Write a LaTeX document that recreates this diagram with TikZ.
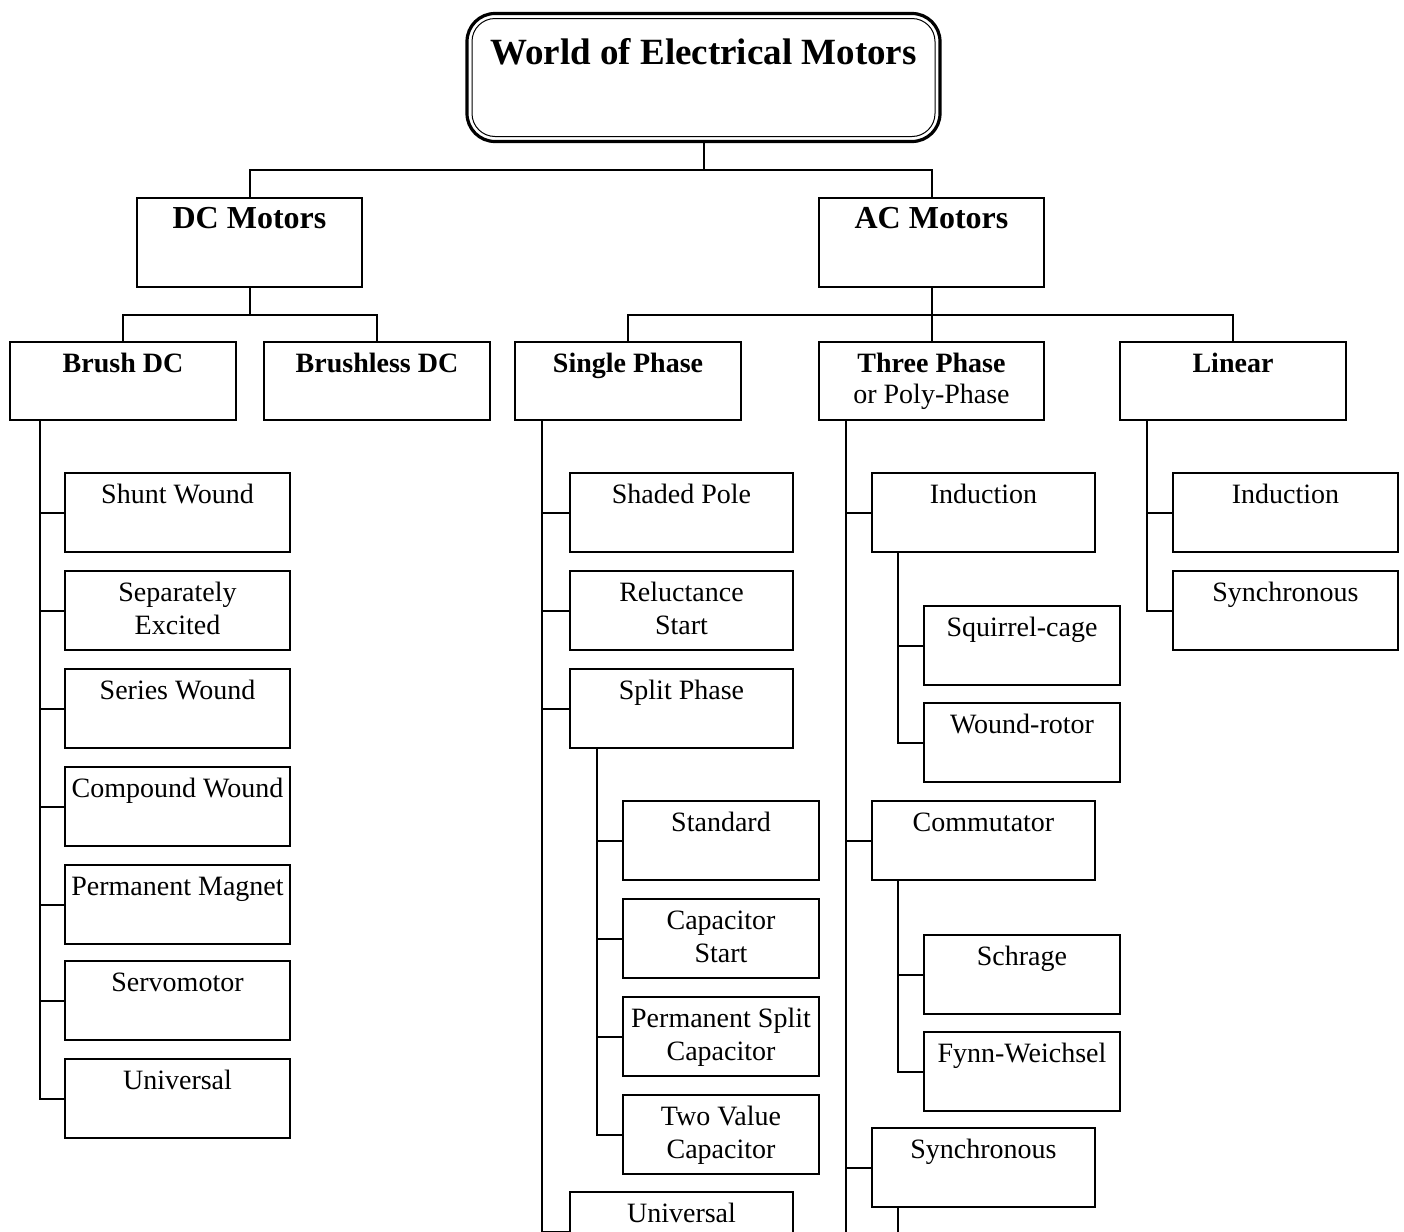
\documentclass[tikz,border=0pt]{standalone}
\usepackage{fontspec}
\setmainfont{Liberation Serif}
\tikzset{
  x=0.5pt, y=-0.5pt,
  bx/.style={draw, line width=1pt, rectangle, inner sep=0pt, outer sep=0pt, anchor=north west},
  bxA/.style={bx, minimum width=113pt, minimum height=39pt},
  bxM/.style={bx, minimum width=112.5pt, minimum height=44.5pt},
  bxC/.style={bx, minimum width=112.5pt, minimum height=39.5pt},
  bxS/.style={bx, minimum width=111.5pt, minimum height=39.5pt},
  bxG/.style={bx, minimum width=98pt, minimum height=39.5pt},
  txt/.style={anchor=base, inner sep=0pt, font=\fontsize{14}{16.5}\selectfont},
  sub/.style={txt, font=\bfseries\fontsize{14}{15.5}\selectfont},
  hd/.style={txt, font=\bfseries\fontsize{16}{19}\selectfont},
  conn/.style={line width=1pt},
}
\newcommand\Lines[1]{\begin{tabular}[t]{@{}c@{}}#1\end{tabular}}
\newcommand\Bx[6]{%
  \node[#4] (#1) at (#2,#3) {};
  \node[#5] (#1t) at ([yshift=-15pt]#1.north) {\Lines{#6}};}
\begin{document}
\begin{tikzpicture}
\path[use as bounding box, fill=white] (0,0) rectangle (1404,1232);
\clip (0,0) rectangle (1404,1232);
% title
\node[draw, line width=1.6pt, rounded corners=14pt, minimum width=236.5pt, minimum height=64pt, inner sep=0pt, outer sep=0pt, anchor=north west] (title) at (467,13.5) {};
\draw[line width=0.5pt, rounded corners=11.5pt] ([shift={(5,5)}]title.north west) rectangle ([shift={(-5,-5)}]title.south east);
\node[txt, font=\bfseries\fontsize{18.5}{22}\selectfont] (titlet) at ([yshift=-25.5pt]title.north) {World of Electrical Motors};
% level 1
\Bx{dc}{137}{198}{bxM}{hd}{DC Motors}
\Bx{ac}{819}{198}{bxM}{hd}{AC Motors}
% level 2
\Bx{brush}{10}{342}{bxA}{sub}{Brush DC}
\Bx{brushless}{264}{342}{bxA}{sub}{Brushless DC}
\Bx{single}{515}{342}{bxA}{sub}{Single Phase}
\node[bxA, minimum width=112.5pt] (three) at (819,342) {};
\node[txt] (threet) at ([yshift=-15pt]three.north) {\begin{tabular}[t]{@{}c@{}}\textbf{Three Phase}\\[-1pt]or Poly-Phase\end{tabular}};
\Bx{linear}{1120}{342}{bxA}{sub}{Linear}
% brush DC children
\Bx{shunt}{65}{473}{bxC}{txt}{Shunt Wound}
\Bx{sep}{65}{571}{bxC}{txt}{Separately\\Excited}
\Bx{series}{65}{669}{bxC}{txt}{Series Wound}
\Bx{compound}{65}{767}{bxC}{txt}{Compound Wound}
\Bx{pm}{65}{865}{bxC}{txt}{Permanent Magnet}
\Bx{servo}{65}{961}{bxC}{txt}{Servomotor}
\Bx{univA}{65}{1059}{bxC}{txt}{Universal}
% single phase children
\Bx{shaded}{570}{473}{bxS}{txt}{Shaded Pole}
\Bx{reluct}{570}{571}{bxS}{txt}{Reluctance\\Start}
\Bx{split}{570}{669}{bxS}{txt}{Split Phase}
\Bx{univB}{570}{1192}{bxS}{txt}{Universal}
% split phase children
\Bx{standard}{623}{801}{bxG}{txt}{Standard}
\Bx{capstart}{623}{899}{bxG}{txt}{Capacitor\\Start}
\Bx{psc}{623}{997}{bxG}{txt}{Permanent Split\\Capacitor}
\Bx{twoval}{623}{1095}{bxG}{txt}{Two Value\\Capacitor}
% three phase children
\Bx{indT}{872}{473}{bxS}{txt}{Induction}
\Bx{comm}{872}{801}{bxS}{txt}{Commutator}
\Bx{syncT}{872}{1128}{bxS}{txt}{Synchronous}
% induction children
\Bx{squirrel}{924}{606}{bxG}{txt}{Squirrel-cage}
\Bx{wound}{924}{703}{bxG}{txt}{Wound-rotor}
% commutator children
\Bx{schrage}{924}{935}{bxG}{txt}{Schrage}
\Bx{fynn}{924}{1032}{bxG}{txt}{Fynn-Weichsel}
% linear children
\Bx{indL}{1173}{473}{bxC}{txt}{Induction}
\Bx{syncL}{1173}{571}{bxC}{txt}{Synchronous}
% connectors
\draw[conn] (title.south) -- ++(0,28) coordinate (tb) -| (dc.north);
\draw[conn] (tb) -| (ac.north);
\draw[conn] (dc.south) -- ++(0,28) coordinate (db) -| (brush.north);
\draw[conn] (db) -| (brushless.north);
\draw[conn] (ac.south) -- ++(0,28) coordinate (ab) -| (single.north);
\draw[conn] (ab) -- (three.north);
\draw[conn] (ab) -| (linear.north);
\foreach \c in {shunt,sep,series,compound,pm,servo,univA}
  \draw[conn] ([xshift=15pt]brush.south west) |- (\c.west);
\foreach \c in {shaded,reluct,split,univB}
  \draw[conn] ([xshift=13.5pt]single.south west) |- (\c.west);
\foreach \c in {standard,capstart,psc,twoval}
  \draw[conn] ([xshift=13.5pt]split.south west) |- (\c.west);
\foreach \c in {indT,comm,syncT}
  \draw[conn] ([xshift=13.5pt]three.south west) |- (\c.west);
\coordinate (threeend) at (846,1260);
\draw[conn] ([xshift=13.5pt]three.south west) -- (threeend);
\foreach \c in {squirrel,wound}
  \draw[conn] ([xshift=13pt]indT.south west) |- (\c.west);
\foreach \c in {schrage,fynn}
  \draw[conn] ([xshift=13pt]comm.south west) |- (\c.west);
\coordinate (syncend) at (898,1260);
\draw[conn] ([xshift=13pt]syncT.south west) -- (syncend);
\foreach \c in {indL,syncL}
  \draw[conn] ([xshift=13.5pt]linear.south west) |- (\c.west);
\end{tikzpicture}
\end{document}
